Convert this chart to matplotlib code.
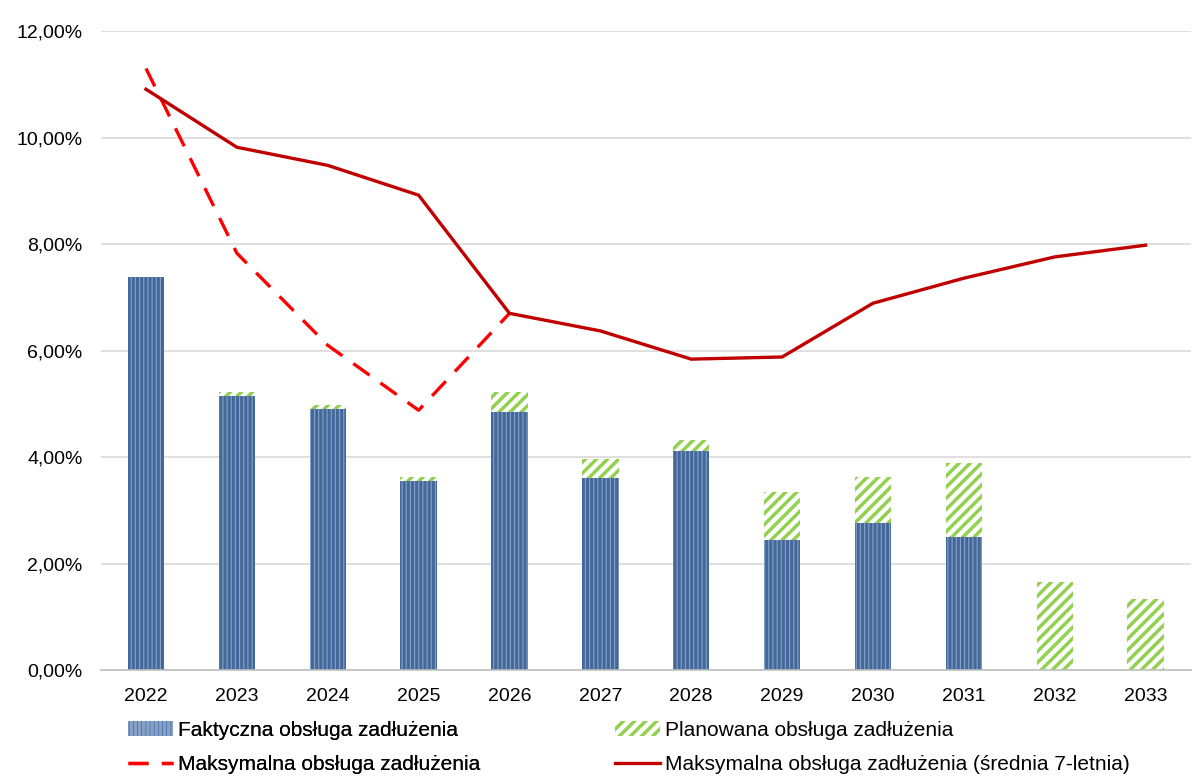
import matplotlib
matplotlib.use("Agg")
import matplotlib.pyplot as plt
import numpy as np
from matplotlib.ticker import FuncFormatter

plt.rcParams['font.family'] = ['Liberation Sans', 'DejaVu Sans']

# dane
lata = ["2022", "2023", "2024", "2025", "2026", "2027", "2028", "2029", "2030", "2031", "2032", "2033"]
faktyczna = [7.38, 5.15, 4.90, 3.55, 4.85, 3.60, 4.11, 2.44, 2.76, 2.50, 0.0, 0.0]
razem = [7.38, 5.22, 4.98, 3.63, 5.22, 3.96, 4.32, 3.34, 3.62, 3.88, 1.65, 1.33]
maks_srednia = [10.91, 9.82, 9.48, 8.92, 6.70, 6.37, 5.84, 5.88, 6.89, 7.36, 7.76, 7.98]
maks = [11.30, 7.83, 6.10, 4.88, 6.70]

planowana = [r - f for r, f in zip(razem, faktyczna)]

fig = plt.figure(figsize=(11.97, 7.8), dpi=100)
ax = fig.add_axes([0.084, 0.141, 0.911, 0.819])

x = np.arange(len(lata))
w = 0.4

plt.rcParams['hatch.linewidth'] = 0.8
b1 = ax.bar(x, faktyczna, w, color='#44689a', edgecolor='#86a2c8', hatch='||||', linewidth=0, zorder=2)
plt.rcParams['hatch.linewidth'] = 2.5
b2 = ax.bar(x, planowana, w, bottom=faktyczna, color='white', edgecolor='#92d050', hatch='///', linewidth=0, zorder=2)

l1, = ax.plot(x[:len(maks)], maks, color='#ff0000', lw=2.4, dashes=(6, 4), zorder=3)
l2, = ax.plot(x, maks_srednia, color='#c00000', lw=2.4, zorder=3)

ax.set_xlim(-0.5, len(lata) - 0.5)
ax.set_ylim(0, 12)
ax.set_yticks(np.arange(0, 13, 2))
ax.yaxis.set_major_formatter(FuncFormatter(lambda v, p: f"{v:.2f}%".replace('.', ',')))
ax.set_xticks(x)
ax.set_xticklabels(lata)
ax.tick_params(axis='both', length=0, labelsize=14, colors='#000000')
ax.tick_params(axis='x', pad=13)
ax.tick_params(axis='y', pad=13)

ax.grid(axis='y', color='#d9d9d9', lw=1.2, zorder=0)
ax.set_axisbelow(True)
for s in ['left', 'right', 'top']:
    ax.spines[s].set_visible(False)
ax.spines['bottom'].set_color('#bfbfbf')
ax.spines['bottom'].set_linewidth(1.2)

opts = dict(loc='upper left', frameon=False, fontsize=15, handlelength=2.15,
            handletextpad=0.25, labelspacing=0.72, borderpad=0, borderaxespad=0)
leg1 = fig.legend([b1, l1], ["Faktyczna obsługa zadłużenia", "Maksymalna obsługa zadłużenia"],
                  bbox_to_anchor=(128 / 1197, 1 - 721 / 780), **opts)
fig.add_artist(leg1)
fig.legend([b2, l2], ["Planowana obsługa zadłużenia", "Maksymalna obsługa zadłużenia (średnia 7-letnia)"],
           bbox_to_anchor=(615 / 1197, 1 - 721 / 780), **opts)

fig.savefig("out.png", dpi=100)
